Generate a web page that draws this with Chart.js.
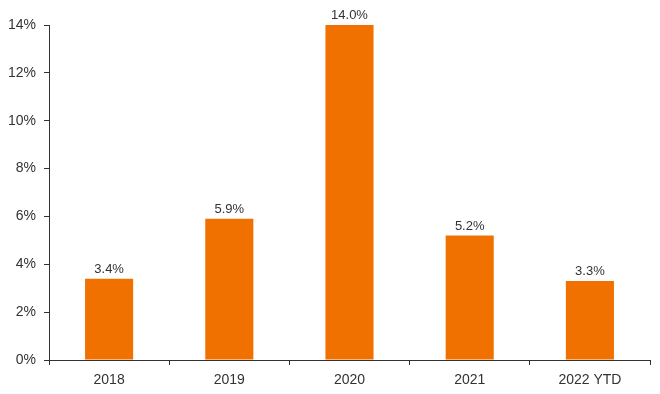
<!DOCTYPE html>
<html>
<head>
<meta charset="utf-8">
<script src="https://cdn.jsdelivr.net/npm/chart.js@4/dist/chart.umd.min.js"></script>
<style>
  html, body { margin: 0; padding: 0; background: #fff; }
  #wrap { width: 660px; height: 394px; }
</style>
</head>
<body>
<div id="wrap"><canvas id="chart"></canvas></div>
<script>
// ── DATA ──────────────────────────────────────────────
const categories = ["2018", "2019", "2020", "2021", "2022 YTD"];
const values     = [3.4, 5.9, 14.0, 5.2, 3.3];
const yTicks     = [0, 2, 4, 6, 8, 10, 12, 14];

const AXIS_COLOR = "#333333";
const TEXT_COLOR = "#333333";
const BAR_COLOR  = "#F07000";

Chart.defaults.font.family = "'Liberation Sans', Arial, sans-serif";
Chart.defaults.font.size = 14;
Chart.defaults.color = TEXT_COLOR;

// value labels above each bar
const barLabels = {
  id: "barLabels",
  afterDatasetsDraw(chart) {
    const ctx = chart.ctx;
    const meta = chart.getDatasetMeta(0);
    ctx.save();
    ctx.font = "13px 'Liberation Sans', Arial, sans-serif";
    ctx.fillStyle = TEXT_COLOR;
    ctx.textAlign = "center";
    ctx.textBaseline = "bottom";
    meta.data.forEach((bar, i) => {
      ctx.fillText(values[i].toFixed(1) + "%", bar.x, bar.y - 3);
    });
    ctx.restore();
  }
};

new Chart(document.getElementById("chart"), {
  type: "bar",
  data: {
    labels: categories,
    datasets: [{
      data: values,
      backgroundColor: BAR_COLOR,
      borderWidth: 0,
      barPercentage: 0.4,
      categoryPercentage: 1.0
    }]
  },
  options: {
    responsive: true,
    maintainAspectRatio: false,
    animation: false,
    layout: { padding: { top: 25, right: 10, left: 0, bottom: 0 } },
    plugins: { legend: { display: false }, tooltip: { enabled: false } },
    scales: {
      x: {
        grid: {
          offset: true,
          drawOnChartArea: false,
          drawTicks: true,
          tickLength: 5,
          color: AXIS_COLOR
        },
        border: { display: true, color: AXIS_COLOR, width: 1 },
        ticks: { color: TEXT_COLOR, padding: 7, font: { size: 14 } },
        afterFit: (scale) => { scale.height = 34; }
      },
      y: {
        min: 0,
        max: 14,
        afterBuildTicks: (scale) => {
          scale.ticks = yTicks.map(v => ({ value: v }));
        },
        grid: {
          drawOnChartArea: false,
          drawTicks: true,
          tickLength: 5,
          color: AXIS_COLOR
        },
        border: { display: true, color: AXIS_COLOR, width: 1 },
        ticks: {
          color: TEXT_COLOR,
          padding: 8,
          font: { size: 14 },
          callback: (v) => v + "%"
        },
        afterFit: (scale) => { scale.width = 49; }
      }
    }
  },
  plugins: [barLabels]
});
</script>
</body>
</html>
